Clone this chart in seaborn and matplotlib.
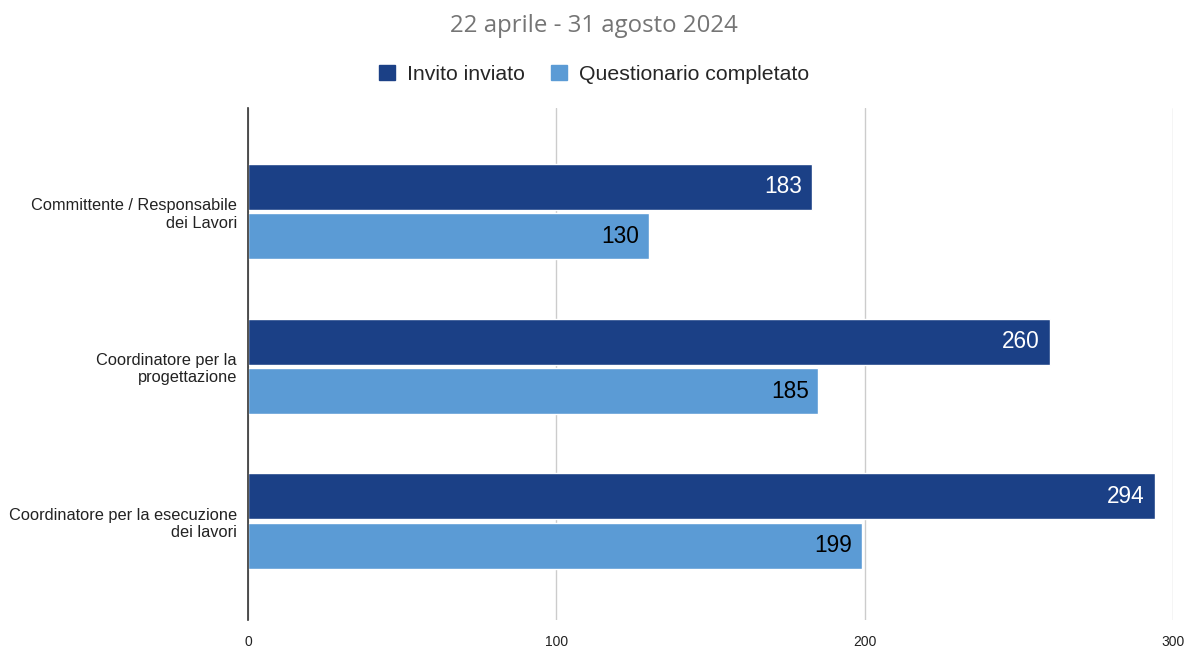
import pandas as pd
import matplotlib.pyplot as plt
import seaborn as sns

# data
categories = [
    "Committente / Responsabile\ndei Lavori",
    "Coordinatore per la\nprogettazione",
    "Coordinatore per la esecuzione\ndei lavori",
]
invito_inviato = [183, 260, 294]
questionario_completato = [130, 185, 199]
series_names = ["Invito inviato", "Questionario completato"]
x_ticks = [0, 100, 200, 300]

df = pd.DataFrame({
    "categoria": categories * 2,
    "valore": invito_inviato + questionario_completato,
    "serie": [series_names[0]] * 3 + [series_names[1]] * 3,
})

sns.set_theme(style="white")
plt.rcParams["font.family"] = ["Liberation Sans", "DejaVu Sans"]

colors = {series_names[0]: "#1b4086", series_names[1]: "#5b9bd5"}

fig = plt.figure(figsize=(11.88, 6.48), dpi=100)
ax = fig.add_axes([0.2088, 0.0432, 0.7786, 0.7901])

sns.barplot(data=df, y="categoria", x="valore", hue="serie", palette=colors,
            orient="h", width=0.64, gap=0.07, saturation=1, ax=ax,
            legend=False)

# value labels inside bar ends
for cont, col in zip(ax.containers, ["white", "black"]):
    labels = ax.bar_label(cont, label_type="edge", padding=-7, color=col,
                          fontsize=16.3)
    for t in labels:
        t.set_horizontalalignment("right")

ax.set_xlim(0, 300)
ax.set_ylim(2.64, -0.67)
ax.set_xticks(x_ticks)
ax.set_xticklabels([str(v) for v in x_ticks], fontsize=10,
                   family=["Liberation Sans Narrow", "Liberation Sans"])
ax.tick_params(axis="x", length=0, pad=11, colors="#222222")
ax.tick_params(axis="y", length=0, pad=8, labelsize=11.8, colors="#222222")
ax.set_xlabel("")
ax.set_ylabel("")
for lab in ax.get_yticklabels():
    lab.set_horizontalalignment("right")
    lab.set_multialignment("right")

ax.grid(axis="x", color="#cccccc", linewidth=1)
ax.set_axisbelow(True)
for side in ["top", "right", "bottom"]:
    ax.spines[side].set_visible(False)
ax.spines["left"].set_color("#333333")
ax.spines["left"].set_linewidth(1.2)

fig.text(0.5, 0.96, "22 aprile - 31 agosto 2024", ha="center", va="center",
         fontsize=17.3, color="#757575", family=["Open Sans", "DejaVu Sans"])

handles = [plt.Rectangle((0, 0), 1, 1, color=colors[s]) for s in series_names]
fig.legend(handles, series_names, loc="center", bbox_to_anchor=(0.5, 0.885),
           ncol=2, frameon=False, fontsize=15.3, handlelength=0.75,
           handleheight=0.75, handletextpad=0.6, columnspacing=1.2)

fig.savefig("out.png", dpi=100)
